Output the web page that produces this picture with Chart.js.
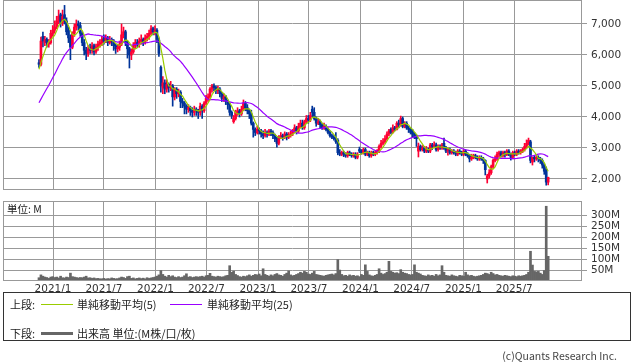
<!DOCTYPE html>
<html>
<head>
<meta charset="utf-8">
<script src="https://cdn.jsdelivr.net/npm/chart.js@4.4.1/dist/chart.umd.min.js"></script>
<style>
  body { margin: 0; background: #fff; }
  #wrap { position: relative; width: 638px; height: 362px; overflow: hidden; font-family: "Noto Sans CJK JP", sans-serif; color: #222; }
  canvas { position: absolute; left: 0; top: 0; }
  .t { position: absolute; font-size: 11px; line-height: 14px; white-space: nowrap; }
  .ln { position: absolute; height: 0; }
  #box { position: absolute; left: 3px; top: 292px; width: 628px; height: 49px; border: 1px solid #333; box-sizing: border-box; }
</style>
</head>
<body>
<div id="wrap">
  <canvas id="price" width="638" height="362"></canvas>
  <canvas id="volume" width="638" height="362"></canvas>
  <div class="t" style="left:7px;top:202px;font-size:10.5px">単位: M</div>
  <div id="box"></div>
  <div class="t" style="left:10px;top:297px">上段:</div>
  <div class="ln" style="left:41px;top:304px;width:32px;border-top:1px solid #99cc00"></div>
  <div class="t" style="left:77px;top:297px">単純移動平均(5)</div>
  <div class="ln" style="left:170px;top:304px;width:32px;border-top:1px solid #9900ff"></div>
  <div class="t" style="left:207px;top:297px">単純移動平均(25)</div>
  <div class="t" style="left:10px;top:326px">下段:</div>
  <div class="ln" style="left:41px;top:332px;width:32px;border-top:3px solid #666"></div>
  <div class="t" style="left:77px;top:326px">出来高 単位:(M株/口/枚)</div>
  <div class="t" style="right:21px;top:349px;font-size:10.5px;color:#444">(c)Quants Research Inc.</div>
</div>
<script>
// 週足 (week 0 = 2020/11/12)
const startDate = new Date(2020, 10, 12);
const tickLabels = ['2021/1', '2021/7', '2022/1', '2022/7', '2023/1', '2023/7', '2024/1', '2024/7', '2025/1', '2025/7'];
const priceTicks = [2000, 3000, 4000, 5000, 6000, 7000];
const volumeTicks = [50, 100, 150, 200, 250, 300];

// 表示期間より前の終値 (25週移動平均の計算用)
const priorCloses = [3550, 3500, 3650, 3600, 3750, 3700, 3850, 3950, 3900, 4050, 4200, 4150, 4350, 4500, 4450, 4650, 4800, 4950, 5050, 5200, 5350, 5500, 5600, 5550];

const opens = [
  5750, 5700, 6600, 6400, 6500, 6350, 6400, 6700, 6800, 6900,
  7100, 7300, 7050, 7300, 7100, 6800, 6550, 6250, 6700, 6900,
  7000, 6950, 6700, 6400, 6150, 6050, 6250, 6150, 6300, 6100,
  6250, 6350, 6400, 6550, 6450, 6550, 6400, 6500, 6450, 6300,
  6200, 6250, 6350, 6650, 6750, 6400, 6200, 6000, 6100, 6300,
  6400, 6350, 6450, 6500, 6400, 6550, 6600, 6700, 6850, 6750,
  6800, 6480, 5600, 4950, 5100, 4900, 5050, 4950, 5000, 4650,
  4900, 4750, 4800, 4500, 4450, 4350, 4250, 4300, 4200, 4150,
  4250, 4200, 4150, 4350, 4200, 4450, 4600, 4650, 4900, 5000,
  4950, 4850, 4900, 4750, 4600, 4650, 4500, 4400, 4150, 3850,
  3950, 4150, 4200, 4100, 4250, 4450, 4300, 4200, 4100, 3800,
  3600, 3500, 3600, 3550, 3450, 3400, 3500, 3450, 3550, 3500,
  3400, 3300, 3150, 3350, 3400, 3350, 3450, 3350, 3400, 3450,
  3550, 3650, 3550, 3700, 3800, 3650, 3850, 3950, 3900, 4250,
  4150, 3950, 3800, 3850, 3750, 3650, 3700, 3600, 3500, 3400,
  3350, 3300, 3250, 2850, 2800, 2850, 2800, 2750, 2850, 2800,
  2750, 2800, 2700, 2950, 2900, 2850, 2950, 2800, 2850, 2750,
  2850, 2800, 2850, 2900, 3050, 3150, 3200, 3300, 3450, 3600,
  3500, 3650, 3600, 3800, 3750, 3950, 3700, 3800, 3650, 3600,
  3550, 3450, 3400, 2900, 3050, 2950, 3000, 2900, 2950, 2900,
  3100, 3050, 3100, 2950, 3050, 3000, 3150, 3000, 2900, 2950,
  2850, 2900, 2850, 2800, 2900, 2850, 2800, 2900, 2800, 2750,
  2650, 2700, 2750, 2700, 2650, 2700, 2650, 2600, 2000, 2100,
  2200, 2400, 2600, 2650, 2800, 2850, 2750, 2850, 2800, 2900,
  2800, 2700, 2850, 2800, 2900, 2850, 2900, 2950, 3050, 3150,
  3200, 2550, 2700, 2650, 2700, 2650, 2600, 2450, 2300, 1900
];
const highs = [
  5850, 6580, 6740, 6600, 6550, 6500, 6800, 6950, 7100, 7250,
  7450, 7350, 7450, 7600, 7200, 6900, 6650, 6750, 7000, 7130,
  7100, 7050, 6750, 6500, 6250, 6300, 6350, 6400, 6350, 6350,
  6450, 6500, 6600, 6650, 6650, 6600, 6600, 6550, 6500, 6350,
  6350, 6450, 7000, 6900, 6800, 6450, 6250, 6200, 6400, 6500,
  6500, 6550, 6650, 6550, 6650, 6700, 6800, 6950, 6900, 6940,
  6850, 6550, 5650, 5300, 5200, 5200, 5100, 5150, 5050, 4950,
  4950, 4900, 4850, 4600, 4500, 4400, 4400, 4350, 4300, 4350,
  4300, 4250, 4450, 4400, 4500, 4700, 4750, 4950, 5050, 5070,
  5000, 5000, 4950, 4800, 4750, 4700, 4550, 4450, 4200, 4050,
  4220, 4300, 4250, 4350, 4550, 4500, 4400, 4250, 4220, 3840,
  3650, 3700, 3650, 3600, 3550, 3600, 3550, 3600, 3600, 3550,
  3450, 3350, 3400, 3500, 3450, 3520, 3500, 3500, 3550, 3600,
  3750, 3700, 3800, 3900, 3900, 3900, 4050, 4050, 4150, 4350,
  4300, 4000, 3950, 3900, 3800, 3800, 3750, 3650, 3550, 3450,
  3400, 3500, 3300, 2950, 2900, 2900, 2850, 2900, 2900, 2850,
  2850, 2850, 2850, 3030, 2950, 3000, 3000, 2900, 2900, 2900,
  2900, 2900, 2950, 3100, 3250, 3300, 3400, 3520, 3600, 3650,
  3750, 3700, 3850, 3900, 4030, 4000, 3850, 3850, 3700, 3650,
  3600, 3500, 3420, 3160, 3100, 3080, 3050, 3050, 3000, 3150,
  3150, 3200, 3160, 3100, 3100, 3150, 3320, 3050, 3000, 3000,
  2950, 2950, 2900, 2950, 2950, 2900, 2950, 2950, 2850, 2800,
  2800, 2800, 2800, 2750, 2750, 2750, 2700, 2620, 2150, 2300,
  2450, 2650, 2750, 2870, 2900, 2900, 2900, 2900, 2950, 2950,
  2840, 2900, 2900, 2950, 2950, 2950, 3000, 3150, 3260, 3320,
  3250, 2710, 2750, 2750, 2750, 2700, 2650, 2500, 2390, 2060
];
const lows = [
  5600, 5650, 6260, 6300, 6250, 6250, 6350, 6600, 6700, 6850,
  7000, 6900, 6950, 7000, 6650, 6400, 5850, 6200, 6600, 6800,
  6800, 6600, 6300, 6000, 5850, 5950, 6050, 6050, 6000, 6050,
  6150, 6250, 6300, 6350, 6400, 6300, 6350, 6300, 6150, 6050,
  6100, 6150, 6300, 6550, 6300, 5900, 5580, 5850, 6050, 6200,
  6250, 6250, 6350, 6300, 6350, 6450, 6500, 6650, 6650, 6650,
  6400, 5950, 4800, 4750, 4750, 4800, 4800, 4850, 4350, 4550,
  4600, 4650, 4300, 4300, 4100, 4100, 4150, 4050, 4000, 4050,
  4050, 3950, 4050, 3950, 4150, 4400, 4500, 4600, 4800, 4850,
  4750, 4750, 4650, 4500, 4500, 4400, 4250, 4050, 3950, 3800,
  3900, 4050, 4000, 4050, 4200, 4200, 4100, 3950, 3740, 3350,
  3400, 3450, 3450, 3350, 3300, 3350, 3350, 3400, 3400, 3300,
  3200, 3030, 3100, 3300, 3250, 3300, 3260, 3300, 3350, 3400,
  3500, 3450, 3500, 3650, 3600, 3600, 3800, 3800, 3850, 4000,
  3900, 3700, 3750, 3650, 3600, 3600, 3550, 3450, 3350, 3300,
  3250, 3150, 2780, 2750, 2750, 2720, 2700, 2700, 2750, 2700,
  2700, 2650, 2650, 2850, 2800, 2800, 2750, 2750, 2700, 2700,
  2750, 2750, 2800, 2850, 3000, 3100, 3150, 3250, 3400, 3450,
  3480, 3550, 3580, 3650, 3700, 3650, 3650, 3600, 3500, 3450,
  3350, 3300, 3050, 2710, 2900, 2900, 2850, 2850, 2850, 2850,
  2950, 3000, 2900, 2900, 2950, 2950, 2950, 2850, 2770, 2800,
  2800, 2800, 2750, 2750, 2800, 2750, 2750, 2750, 2700, 2550,
  2600, 2650, 2650, 2600, 2600, 2600, 2500, 2130, 1870, 2030,
  2150, 2350, 2550, 2600, 2700, 2700, 2700, 2700, 2750, 2750,
  2610, 2650, 2750, 2750, 2800, 2800, 2850, 2900, 3000, 3100,
  2520, 2450, 2550, 2600, 2550, 2500, 2350, 2150, 1800, 1810
];
const closes = [
  5700, 6450, 6450, 6500, 6400, 6400, 6700, 6800, 6900, 7100,
  7250, 7050, 7250, 7100, 6750, 6550, 6250, 6700, 6900, 7000,
  6950, 6700, 6400, 6150, 6050, 6200, 6150, 6300, 6100, 6250,
  6350, 6400, 6500, 6450, 6550, 6400, 6500, 6450, 6300, 6200,
  6250, 6350, 6650, 6750, 6400, 6200, 6000, 6100, 6300, 6400,
  6350, 6450, 6500, 6400, 6550, 6600, 6700, 6850, 6750, 6800,
  6500, 6050, 5000, 5100, 4900, 5050, 4950, 5000, 4650, 4900,
  4750, 4800, 4500, 4450, 4350, 4250, 4300, 4200, 4150, 4250,
  4200, 4150, 4350, 4200, 4450, 4600, 4650, 4900, 5000, 4950,
  4850, 4900, 4750, 4600, 4650, 4500, 4400, 4150, 4050, 3950,
  4150, 4200, 4100, 4250, 4450, 4300, 4200, 4100, 3800, 3600,
  3500, 3600, 3550, 3450, 3400, 3500, 3450, 3550, 3500, 3400,
  3300, 3150, 3350, 3400, 3350, 3450, 3350, 3400, 3450, 3550,
  3650, 3550, 3700, 3800, 3650, 3850, 3950, 3900, 4050, 4150,
  3950, 3800, 3850, 3750, 3650, 3700, 3600, 3500, 3400, 3350,
  3300, 3200, 2850, 2800, 2850, 2800, 2750, 2850, 2800, 2750,
  2800, 2700, 2800, 2900, 2850, 2950, 2800, 2850, 2750, 2850,
  2800, 2850, 2900, 3050, 3150, 3200, 3300, 3450, 3550, 3500,
  3650, 3600, 3800, 3750, 3950, 3700, 3800, 3650, 3600, 3500,
  3450, 3350, 3300, 3050, 2950, 3000, 2900, 2950, 2900, 3100,
  3050, 3100, 2950, 3050, 3000, 3100, 3000, 2900, 2950, 2850,
  2900, 2850, 2800, 2900, 2850, 2800, 2900, 2800, 2750, 2650,
  2700, 2750, 2700, 2650, 2700, 2650, 2600, 2300, 2100, 2200,
  2400, 2600, 2650, 2800, 2850, 2750, 2850, 2800, 2900, 2800,
  2700, 2850, 2800, 2900, 2850, 2900, 2950, 3050, 3150, 3250,
  2600, 2700, 2650, 2700, 2650, 2600, 2450, 2250, 1900, 2050
];
// 出来高 (百万株)
const volumes = [
  15, 28, 22, 18, 16, 12, 18, 20, 16, 18,
  14, 22, 15, 14, 18, 16, 36, 20, 18, 16,
  14, 16, 15, 18, 22, 14, 15, 12, 14, 11,
  12, 10, 10, 12, 9, 11, 10, 14, 12, 10,
  11, 14, 18, 16, 12, 20, 22, 12, 14, 10,
  12, 14, 11, 13, 10, 15, 12, 14, 16, 18,
  22, 28, 48, 30, 22, 18, 26, 20, 24, 18,
  16, 20, 16, 18, 24, 33, 18, 20, 16, 18,
  20, 18, 20, 22, 18, 24, 26, 35, 22, 20,
  18, 22, 20, 18, 20, 24, 26, 70, 40, 45,
  30, 25, 20, 18, 22, 20, 24, 28, 22, 26,
  30, 28, 32, 24, 56, 30, 26, 22, 28, 24,
  30, 34, 28, 26, 22, 30, 36, 46, 28, 24,
  26, 30, 34, 40, 36, 44, 40, 32, 30, 36,
  44, 30, 28, 26, 24, 22, 26, 28, 30, 32,
  28, 34, 98, 50, 30, 24, 26, 22, 28, 24,
  26, 22, 24, 20, 30, 26, 74, 44, 28, 24,
  22, 26, 30, 56, 36, 30, 34, 40, 90, 44,
  40, 36, 38, 34, 52, 40, 36, 34, 30, 28,
  30, 74, 40, 36, 32, 26, 24, 22, 28, 24,
  26, 22, 30, 24, 28, 70, 40, 26, 24, 22,
  28, 24, 22, 20, 26, 24, 22, 40, 28, 24,
  26, 22, 20, 22, 24, 26, 30, 36, 34, 30,
  40, 34, 28, 30, 26, 24, 22, 26, 24, 22,
  20, 24, 22, 20, 24, 22, 24, 26, 30, 40,
  136, 73, 44, 42, 44, 36, 30, 48, 342, 113
];

const UP = '#ff0033';
const DOWN = '#003399';
const GRID = '#999';
const tickFont = { family: 'DejaVu Sans', size: 10.5 };

const weekOf = label => {
  const [y, m] = label.split('/').map(Number);
  return (new Date(y, m - 1, 1) - startDate) / (7 * 864e5);
};
const tickPos = tickLabels.map(weekOf);

// 単純移動平均
function sma(n) {
  const all = priorCloses.concat(closes);
  const off = priorCloses.length;
  return closes.map((c, i) => {
    const k = i + off;
    let s = 0;
    for (let j = k - n + 1; j <= k; j++) s += all[j];
    return { x: i, y: s / n };
  });
}

const candleColors = closes.map((c, i) => c >= opens[i] ? UP : DOWN);

// 枠線
const frame = {
  id: 'frame',
  afterDraw(chart) {
    const { ctx, chartArea: a } = chart;
    ctx.save();
    ctx.strokeStyle = GRID;
    ctx.lineWidth = 1;
    ctx.strokeRect(a.left + 0.5, a.top + 0.5, a.right - a.left - 1, a.bottom - a.top - 1);
    ctx.restore();
  }
};

const xRange = { min: -18.3, max: 276.2 };
const noPad = s => { s.paddingTop = 0; s.paddingBottom = 0; s.paddingLeft = 0; s.paddingRight = 0; };

// 上段: 株価
new Chart(document.getElementById('price'), {
  type: 'bar',
  data: {
    datasets: [
      { type: 'line', data: sma(5), borderColor: '#99cc00', borderWidth: 1.2, pointRadius: 0, order: 0 },
      { type: 'line', data: sma(25), borderColor: '#9900ff', borderWidth: 1.2, pointRadius: 0, order: 1 },
      { data: closes.map((c, i) => ({ x: i, y: [opens[i], c] })), backgroundColor: candleColors, barThickness: 2, grouped: false, order: 2 },
      { data: closes.map((c, i) => ({ x: i, y: [lows[i], highs[i]] })), backgroundColor: candleColors, barThickness: 1, grouped: false, order: 3 }
    ]
  },
  options: {
    responsive: false,
    animation: false,
    events: [],
    layout: { padding: { left: 3, top: 0, right: 0, bottom: 172 } },
    plugins: { legend: { display: false }, tooltip: { enabled: false } },
    scales: {
      x: {
        type: 'linear', ...xRange, offset: false,
        grid: { color: GRID, drawTicks: false, offset: false },
        border: { display: false },
        ticks: { display: false },
        afterBuildTicks: s => { s.ticks = tickPos.map(v => ({ value: v })); },
        afterFit: s => { s.height = 0; noPad(s); }
      },
      y: {
        type: 'linear', position: 'right', min: 1645, max: 7774, beginAtZero: false,
        grid: { color: GRID, tickLength: 5 },
        border: { display: false },
        ticks: { color: '#333', font: tickFont, padding: 4, callback: v => v.toLocaleString('en-US') },
        afterBuildTicks: s => { s.ticks = priceTicks.map(v => ({ value: v })); },
        afterFit: s => { s.width = 56; noPad(s); }
      }
    }
  },
  plugins: [frame]
});

// 下段: 出来高
new Chart(document.getElementById('volume'), {
  type: 'bar',
  data: {
    datasets: [
      { data: volumes.map((v, i) => ({ x: i, y: v })), backgroundColor: '#666', barThickness: 2 }
    ]
  },
  options: {
    responsive: false,
    animation: false,
    events: [],
    layout: { padding: { left: 3, top: 201, right: 0, bottom: 61 } },
    plugins: { legend: { display: false }, tooltip: { enabled: false } },
    scales: {
      x: {
        type: 'linear', ...xRange, offset: false,
        grid: { color: GRID, drawTicks: false, offset: false },
        border: { display: false },
        ticks: { color: '#333', font: tickFont, padding: 2, maxRotation: 0, autoSkip: false,
                 callback: (v, i) => tickLabels[i] },
        afterBuildTicks: s => { s.ticks = tickPos.map(v => ({ value: v })); },
        afterFit: s => { s.height = 20; noPad(s); }
      },
      y: {
        type: 'linear', position: 'right', min: 0, max: 366,
        grid: { color: GRID, tickLength: 5 },
        border: { display: false },
        ticks: { color: '#333', font: tickFont, padding: 4, callback: v => v + 'M' },
        afterBuildTicks: s => { s.ticks = volumeTicks.map(v => ({ value: v })); },
        afterFit: s => { s.width = 56; noPad(s); }
      }
    }
  },
  plugins: [frame]
});
</script>
</body>
</html>
